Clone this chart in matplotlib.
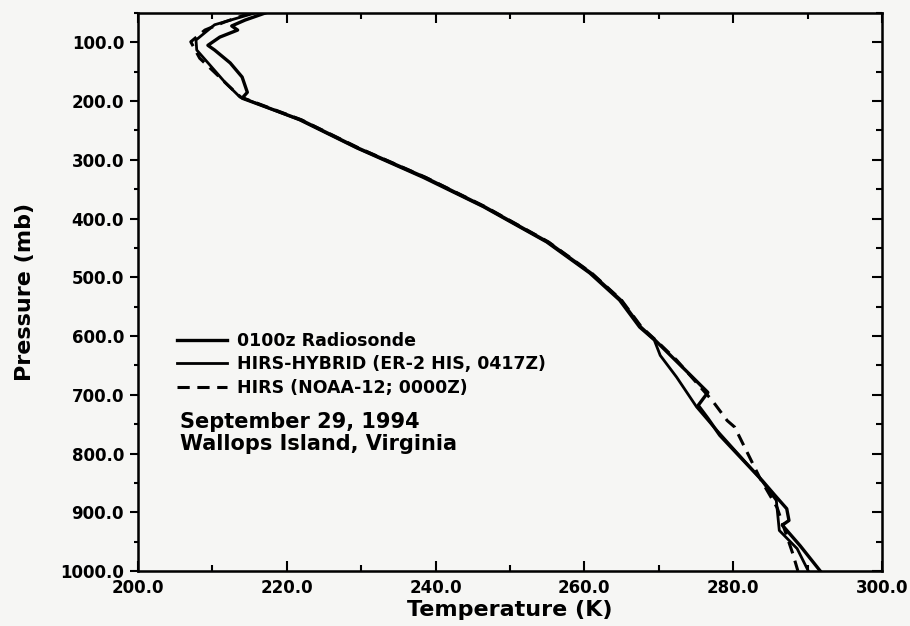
# Temperature profiles, Wallops Island
import matplotlib
matplotlib.use("Agg")
import matplotlib.pyplot as plt
from matplotlib.ticker import MultipleLocator, FormatStrFormatter, NullFormatter

plt.rcParams["font.family"] = ["DejaVu Sans"]
plt.rcParams["font.weight"] = "bold"

# pressure (mb) / temperature (K)
raob_p = [50, 62, 72, 79, 91, 105, 113, 135, 159, 185, 195, 232, 280, 330,
          380, 440, 493, 539, 585, 607, 662, 696, 718, 740, 769, 846, 871,
          894, 914, 922, 957, 1000]
raob_t = [217.1, 214.4, 212.6, 213.4, 211.0, 209.4, 210.3, 212.4, 214.0,
          214.7, 214.0, 221.9, 229.6, 238.6, 246.6, 255.1, 260.9, 264.9,
          267.6, 269.5, 273.9, 276.6, 275.3, 276.6, 278.2, 283.9, 285.6,
          287.2, 287.5, 286.6, 289.0, 291.7]

hybrid_p = [50, 70, 96, 113, 139, 168, 193, 232, 280, 330, 380, 440, 493,
            539, 585, 607, 633, 670, 721, 752, 842, 880, 931, 962, 1000]
hybrid_t = [215.7, 210.3, 207.8, 207.9, 209.7, 211.7, 213.7, 221.7, 229.4,
            238.3, 246.4, 254.9, 260.7, 264.7, 267.4, 269.4, 270.2, 272.4,
            275.1, 277.2, 283.6, 285.8, 286.2, 288.6, 290.1]

noaa_p = [50, 65, 79, 99, 127, 151, 173, 193, 232, 280, 330, 380, 440, 493,
          539, 585, 607, 641, 710, 744, 755, 842, 892, 970, 1000]
noaa_t = [215.1, 211.7, 209.0, 207.1, 208.3, 210.3, 212.1, 213.8, 222.0,
          229.7, 238.7, 246.7, 255.2, 261.0, 265.0, 267.7, 269.6, 272.4,
          277.2, 279.2, 280.2, 283.6, 285.9, 288.0, 288.7]

labels = ["0100z Radiosonde", "HIRS-HYBRID (ER-2 HIS, 0417Z)",
          "HIRS (NOAA-12; 0000Z)"]

fig = plt.figure(figsize=(9.1, 6.26), dpi=100, facecolor="#f6f6f4")
ax = fig.add_axes([0.1516, 0.0879, 0.8176, 0.8913])
ax.set_facecolor("#f6f6f4")

ax.plot(raob_t, raob_p, color="black", lw=2.4, label=labels[0])
ax.plot(hybrid_t, hybrid_p, color="black", lw=2.0, label=labels[1])
ax.plot(noaa_t, noaa_p, color="black", lw=2.2, ls=(0, (4, 2.5)),
        label=labels[2])

ax.set_xlim(200, 300)
ax.set_ylim(1000, 50)

ax.xaxis.set_major_locator(MultipleLocator(20))
ax.xaxis.set_minor_locator(MultipleLocator(10))
ax.yaxis.set_major_locator(MultipleLocator(100))
ax.yaxis.set_minor_locator(MultipleLocator(50))
ax.xaxis.set_major_formatter(FormatStrFormatter("%.1f"))
ax.yaxis.set_major_formatter(FormatStrFormatter("%.1f"))

ax.tick_params(axis="x", which="both", direction="in", top=True,
               labelsize=12, pad=6, width=1.5)
ax.tick_params(axis="x", which="major", length=7)
ax.tick_params(axis="x", which="minor", length=4)
ax.tick_params(axis="y", which="both", direction="out", labelsize=12,
               pad=4, width=1.5)
ax.tick_params(axis="y", which="major", length=6)
ax.tick_params(axis="y", which="minor", length=3)
for sp in ax.spines.values():
    sp.set_linewidth(1.8)

# inward ticks on the right spine, no labels
rax = ax.twinx()
rax.set_ylim(1000, 50)
rax.yaxis.set_major_locator(MultipleLocator(100))
rax.yaxis.set_minor_locator(MultipleLocator(50))
rax.yaxis.set_major_formatter(NullFormatter())
rax.tick_params(axis="y", which="both", direction="in", labelright=False,
                width=1.5)
rax.tick_params(axis="y", which="major", length=7)
rax.tick_params(axis="y", which="minor", length=4)

for lab in ax.get_xticklabels() + ax.get_yticklabels():
    lab.set_fontweight("bold")

ax.set_xlabel("Temperature (K)", fontsize=16, fontweight="bold", labelpad=2)
ax.set_ylabel("Pressure (mb)", fontsize=16, fontweight="bold", labelpad=18)

ax.legend(loc="upper left", bbox_to_anchor=(0.052, 0.428), frameon=False,
          handlelength=2.9, handletextpad=0.55,
          labelspacing=0.3, borderpad=0, borderaxespad=0,
          prop={"weight": "bold", "size": 12.5})

ax.text(0.0565, 0.285, "September 29, 1994\nWallops Island, Virginia",
        transform=ax.transAxes, fontsize=15, fontweight="bold", va="top",
        ha="left", linespacing=1.1)

fig.savefig("out.png", dpi=100, facecolor=fig.get_facecolor())
